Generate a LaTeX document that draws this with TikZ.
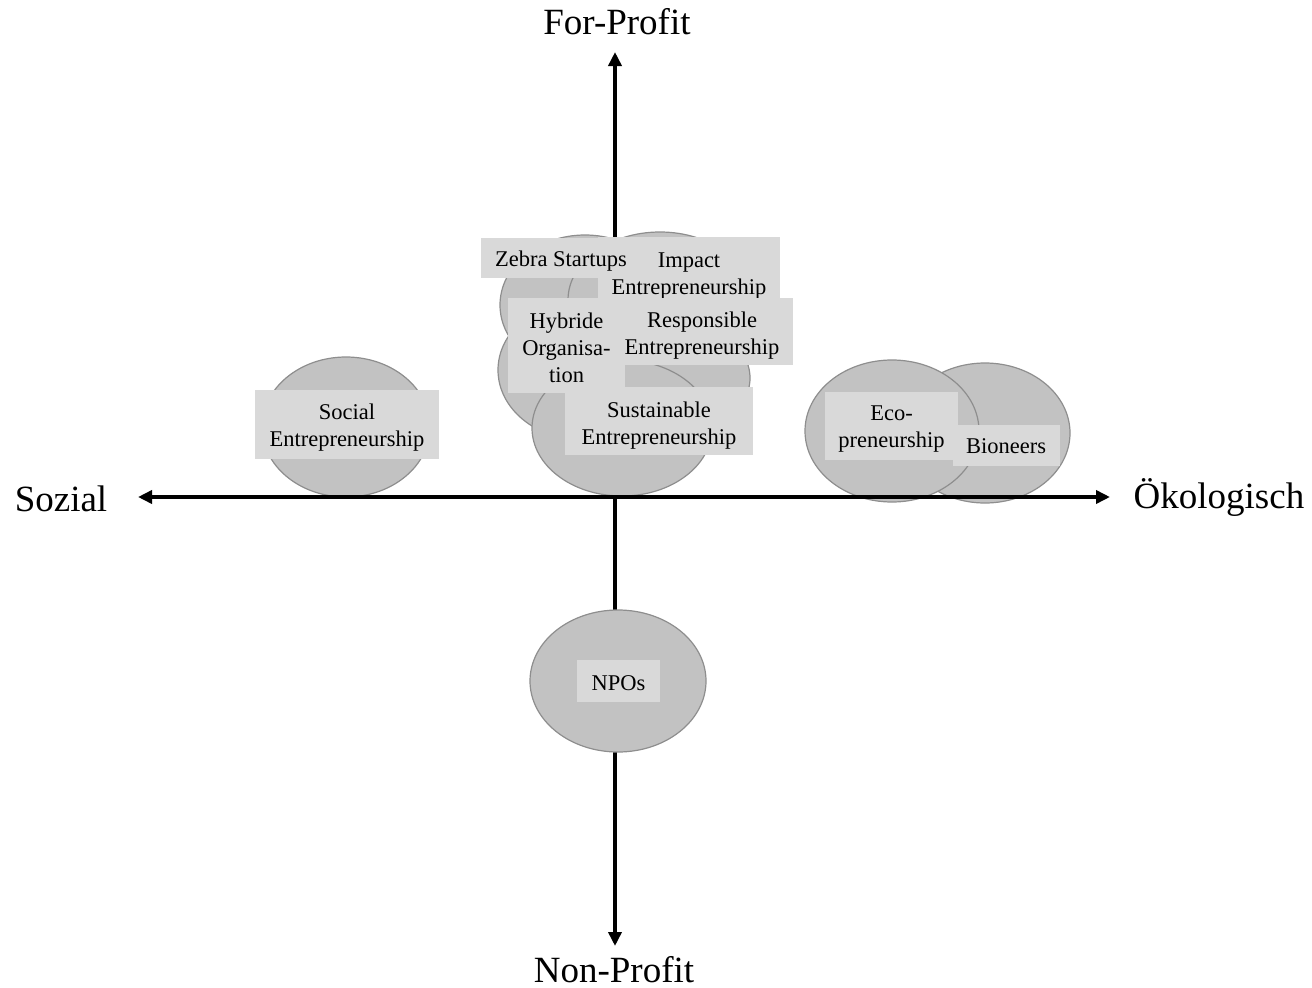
\documentclass[tikz,border=0pt]{standalone}
\usepackage{fontspec}
\setmainfont{Liberation Serif}
\usetikzlibrary{shapes.geometric,arrows.meta}
\definecolor{ellfill}{HTML}{C2C2C2}
\definecolor{elldraw}{HTML}{8E8E8E}
\definecolor{boxfill}{HTML}{D9D9D9}
\newcommand\dnby[2]{\raisebox{0pt}[\dimexpr\height+#1\relax]{#2}}
\tikzset{
  blob/.style={ellipse, draw=elldraw, fill=ellfill, line width=1.2pt, inner sep=0pt},
  lbl/.style={rectangle, fill=boxfill, inner sep=0pt, align=center, font=\fontsize{22.5}{27}\selectfont},
  axis/.style={line width=3.5pt, {Triangle[length=14pt,width=13pt]}-{Triangle[length=14pt,width=13pt]}},
  axlbl/.style={anchor=base, inner sep=0pt, font=\fontsize{37}{40}\selectfont}
}
\begin{document}
\begin{tikzpicture}[x=1pt,y=-1pt]
\useasboundingbox (0,0) rectangle (1312,988);
% axes ends
\coordinate (top) at (615,52);
\coordinate (bot) at (615,946);
\coordinate (lft) at (138,497);
\coordinate (rgt) at (1110,497);
\draw[axis] (top) -- (bot);
% ellipses
\node[blob, minimum width=168pt, minimum height=140pt] (eSoc) at (346,427) {};
\node[blob, minimum width=170pt, minimum height=140pt] (eZeb) at (585,305) {};
\node[blob, minimum width=184pt, minimum height=136pt] (eImp) at (660,300) {};
\node[blob, minimum width=170pt, minimum height=140pt] (eHyb) at (583,370) {};
\node[blob, minimum width=170pt, minimum height=120pt] (eRes) at (665,378) {};
\node[blob, minimum width=180pt, minimum height=136pt] (eSus) at (622,428) {};
\node[blob, minimum width=170pt, minimum height=140pt] (eBio) at (985,433) {};
\node[blob, minimum width=174pt, minimum height=142pt] (eEco) at (892,431) {};
\node[blob, minimum width=176pt, minimum height=142pt] (eNpo) at (618,681) {};
\draw[axis] (lft) -- (rgt);
% label boxes
\node[lbl, minimum width=184pt, minimum height=69pt] (tSoc) at (347,424) {\dnby{7pt}{Social}\\Entrepreneurship};
\node[lbl, minimum width=182pt, minimum height=60pt] (tImp) at (689,268) {\dnby{16pt}{Impact}\\Entrepreneurship};
\node[lbl, minimum width=160pt, minimum height=40pt] (tZeb) at (561,258) {\dnby{6pt}{Zebra Startups}};
\node[lbl, minimum width=117pt, minimum height=95pt] (tHyb) at (566.5,345.5) {\dnby{4pt}{Hybride}\\Organisa-\\tion};
\node[lbl, minimum width=168pt, minimum height=67pt] (tRes) at (709,331.5) {\hspace*{-14pt}\dnby{8pt}{Responsible}\\\hspace*{-14pt}Entrepreneurship};
\node[lbl, minimum width=188pt, minimum height=68pt] (tSus) at (659,421) {\dnby{9pt}{Sustainable}\\Entrepreneurship};
\node[lbl, minimum width=133pt, minimum height=68pt] (tEco) at (891.5,426) {\dnby{6pt}{Eco-}\\preneurship};
\node[lbl, minimum width=107pt, minimum height=41pt] (tBio) at (1006,445.5) {\dnby{2pt}{Bioneers}};
\node[lbl, minimum width=83pt, minimum height=42pt] (tNpo) at (618.5,681) {\dnby{4pt}{NPOs}};
% axis labels
\node[axlbl] (lFor) at (617,34) {For-Profit};
\node[axlbl] (lNon) at (614,982) {Non-Profit};
\node[axlbl] (lSoz) at (61,511) {Sozial};
\node[axlbl] (lOek) at (1219,508) {Ökologisch};
\end{tikzpicture}
\end{document}
